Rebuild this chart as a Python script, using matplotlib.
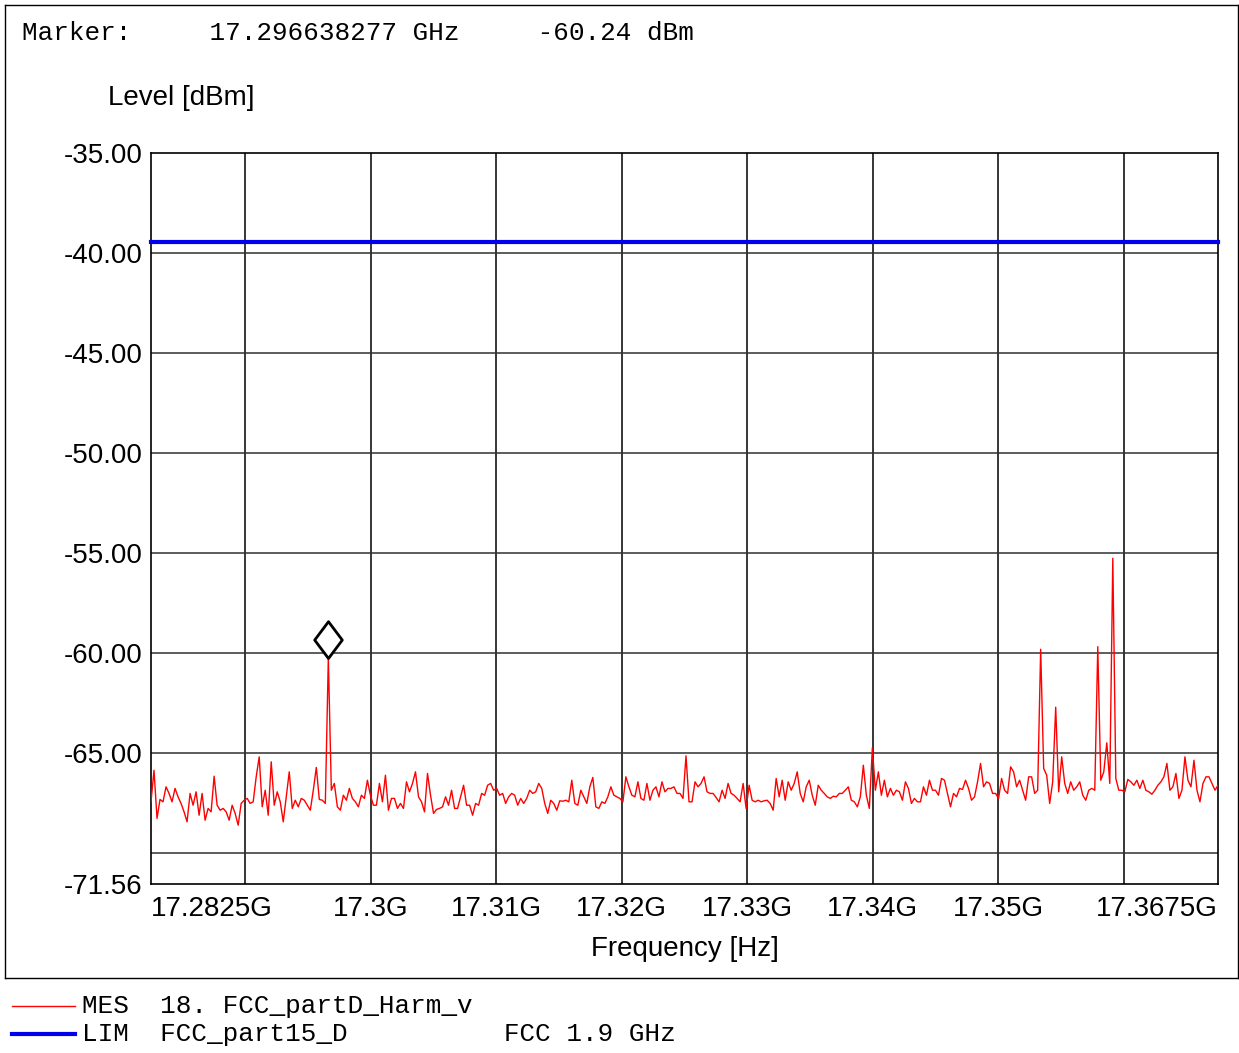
import numpy as np
import matplotlib
matplotlib.use("Agg")
import matplotlib.pyplot as plt
from matplotlib.lines import Line2D
from matplotlib.path import Path

# sweep 17.2825 .. 17.3675 GHz, levels in dBm
f_start = 17.2825
f_stop = 17.3675
level = [
    -67.45, -65.87, -68.28, -67.33, -67.45, -66.7, -67.03, -67.45, -66.78, -67.2,
    -67.53, -67.95, -68.45, -67.03, -67.62, -66.95, -68.12, -67.03, -68.37, -67.78,
    -67.95, -66.17, -67.62, -67.87, -67.78, -67.95, -68.37, -67.62, -68.03, -68.62,
    -67.53, -67.37, -67.28, -67.53, -67.45, -66.2, -65.2, -67.7, -66.87, -68.12,
    -65.45, -67.62, -66.95, -67.45, -68.45, -67.2, -65.95, -67.78, -67.37, -67.7,
    -67.28, -67.37, -67.62, -67.87, -66.87, -65.73, -67.33, -67.37, -67.53,
    -60.24,
    -66.87, -66.53, -67.7, -67.87, -67.12, -67.37, -66.78, -67.28, -67.45, -67.7,
    -67.12, -67.28, -66.37, -67.12, -67.62, -67.62, -66.53, -67.45, -66.12, -67.87,
    -67.28, -67.28, -67.78, -67.53, -67.78, -66.45, -66.95, -66.53, -65.95, -67.2,
    -67.45, -67.95, -66.03, -67.12, -68.03, -67.83, -67.78, -67.7, -67.2, -67.62,
    -66.87, -67.78, -67.78, -67.2, -66.62, -67.62, -67.62, -68.12, -67.53, -67.62,
    -67.03, -67.12, -66.62, -66.53, -66.87, -66.78, -67.12,
    -67.03, -67.53, -67.2, -67.03, -67.12, -67.62, -67.28, -67.53, -67.28, -66.87,
    -67.03, -66.95, -66.53, -66.78, -67.53, -68.03, -67.37, -67.53, -67.87, -67.4,
    -67.42, -67.37, -67.45, -66.37, -67.53, -67.62, -66.87, -67.2, -67.53, -66.7,
    -66.23, -67.7, -67.78, -67.45, -67.53, -67.2, -66.7, -67.12, -67.2, -67.28,
    -67.45, -66.2, -66.7, -67.12, -67.2, -66.45, -67.28, -67.37, -66.53, -67.37,
    -66.87, -66.7, -67.2, -66.45, -66.95, -66.78,
    -66.78, -66.7, -67.03, -67.03, -67.28, -65.15, -67.45, -67.45, -66.45, -66.7,
    -66.53, -66.2, -66.95, -67.03, -67.03, -67.23, -67.45, -66.87, -67.28, -66.53,
    -67.03, -67.12, -67.28, -67.45, -66.53, -67.78, -66.62, -67.37, -67.45, -67.37,
    -67.45, -67.4, -67.37, -67.53, -67.87, -66.28, -67.2, -66.37, -67.37, -66.45,
    -66.87, -66.53, -65.95, -67.03, -67.45, -66.7, -66.37, -67.12, -67.62, -66.62,
    -66.87, -67.03, -67.2, -67.28, -67.17, -67.2, -67.03,
    -67.03, -66.87, -66.7, -67.37, -67.45, -67.7, -67.2, -65.62, -67.12, -67.78,
    -64.75, -66.87, -65.95, -67.12, -66.37, -67.2, -66.78, -67.12, -66.87, -66.95,
    -67.37, -66.45, -66.78, -67.53, -67.28, -67.45, -67.45, -66.7, -67.12, -66.37,
    -66.87, -66.87, -67.12, -66.28, -66.37, -67.03, -67.7, -67.03, -67.2, -66.78,
    -66.83, -66.37, -66.78, -67.37, -67.2, -66.45, -65.53, -66.7, -66.45, -66.53,
    -67.03, -67.03, -67.28, -66.28, -66.87, -67.03, -65.7,
    -65.95, -66.7, -66.37, -66.87, -67.37, -66.2, -66.2, -67.03, -66.87, -59.82,
    -65.78, -66.12, -67.53, -66.45, -62.72, -66.95, -65.2, -66.53, -67.03, -66.45,
    -66.87, -66.7, -66.45, -67.12, -67.37, -66.87, -66.78, -66.87, -59.69, -66.37,
    -65.95, -64.5, -66.53, -55.27, -66.28, -66.87, -66.87, -66.95, -66.33, -66.45,
    -66.62, -66.37, -66.78, -66.37, -66.87, -66.95, -67.07, -66.87, -66.62, -66.45,
    -66.2, -65.53, -66.87, -66.7, -66.03, -67.28, -66.87, -65.2, -66.37, -66.7,
    -65.37, -66.87, -67.45, -66.53, -66.2, -66.2, -66.53, -66.87, -66.62,
]
freq = np.linspace(f_start, f_stop, len(level))

limit_level = -39.45
marker_freq = 17.296638277
marker_level = -60.24

y_ticks = [-35, -40, -45, -50, -55, -60, -65, -71.56]
y_labels = ["-35.00", "-40.00", "-45.00", "-50.00", "-55.00", "-60.00", "-65.00", "-71.56"]
y_grid = [-40, -45, -50, -55, -60, -65, -70]
x_ticks = [17.2825, 17.30, 17.31, 17.32, 17.33, 17.34, 17.35, 17.3675]
x_labels = ["17.2825G", "17.3G", "17.31G", "17.32G", "17.33G", "17.34G", "17.35G", "17.3675G"]
x_grid = [17.29, 17.30, 17.31, 17.32, 17.33, 17.34, 17.35, 17.36]

W, H = 1239, 1053
sans = "Liberation Sans"
mono = "Liberation Mono"

fig = plt.figure(figsize=(W / 100, H / 100), dpi=100)
fig.patch.set_facecolor("white")

ax = fig.add_axes([151 / W, 1 - 884 / H, 1067 / W, 731 / H])
ax.set_xlim(f_start, f_stop)
ax.set_ylim(-71.56, -35)

for g in x_grid:
    ax.axvline(g, color="black", lw=1.1, zorder=1)
for g in y_grid:
    ax.axhline(g, color="#303030", lw=1.1, zorder=1)

ax.plot(freq, level, color="red", lw=1.0, zorder=3)
ax.axhline(limit_level, color="#0000ee", lw=3, zorder=4, clip_on=False,
           solid_capstyle="projecting")

# marker diamond sitting on the peak (bottom tip at the point)
diamond = Path([(0, 0), (0.75, 1), (0, 2), (-0.75, 1), (0, 0)],
               [Path.MOVETO, Path.LINETO, Path.LINETO, Path.LINETO, Path.CLOSEPOLY])
ax.plot([marker_freq], [marker_level], marker=diamond, ms=53, mfc="white",
        mec="black", mew=2, zorder=5, clip_on=False)

ax.set_xticks(x_ticks)
ax.set_xticklabels(x_labels, fontsize=20, family=sans)
ax.set_yticks(y_ticks)
ax.set_yticklabels(y_labels, fontsize=20, family=sans)
ax.tick_params(length=0)
ax.tick_params(axis="y", pad=6)
ax.tick_params(axis="x", pad=8.5)
tl = ax.get_xticklabels()
tl[0].set_ha("left")
tl[-1].set_ha("right")
for s in ax.spines.values():
    s.set_color("black")
    s.set_linewidth(1.2)

fig.text(108 / W, 1 - 98 / H, "Level [dBm]", fontsize=20, family=sans, va="center")
fig.text(684.5 / W, 1 - 948.5 / H, "Frequency [Hz]", fontsize=20, family=sans,
         ha="center", va="center")

fig.text(22 / W, 1 - 33.5 / H, "Marker:     17.296638277 GHz     -60.24 dBm",
         fontsize=18.7, family=mono, va="center")

# outer frame and separator
frame = [((5, 5), (1238, 5)), ((5, 5), (5, 978)), ((1238, 5), (1238, 978)),
         ((5, 978), (1238, 978))]
for (x0, y0), (x1, y1) in frame:
    fig.add_artist(Line2D([x0 / W, x1 / W], [1 - y0 / H, 1 - y1 / H],
                          color="black", lw=1))

# legend rows
fig.add_artist(Line2D([12 / W, 75 / W], [1 - 1006 / H, 1 - 1006 / H], color="red", lw=1))
fig.add_artist(Line2D([12 / W, 75 / W], [1 - 1034 / H, 1 - 1034 / H], color="#0000ee", lw=3))
fig.text(82 / W, 1 - 1006.5 / H, "MES  18. FCC_partD_Harm_v", fontsize=18.7,
         family=mono, va="center")
fig.text(82 / W, 1 - 1034.5 / H, "LIM  FCC_part15_D          FCC 1.9 GHz", fontsize=18.7,
         family=mono, va="center")

fig.savefig("out.png", dpi=100)
